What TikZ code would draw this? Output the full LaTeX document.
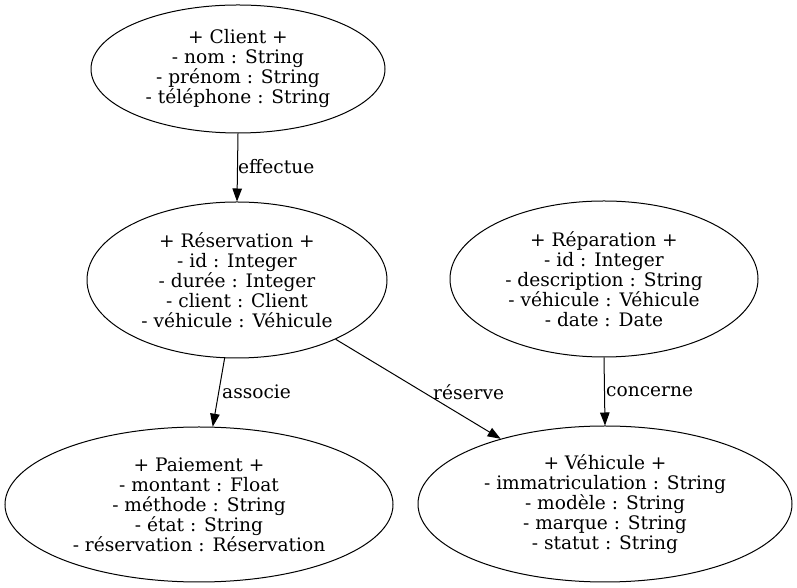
\documentclass[tikz,border=0pt]{standalone}
\usepackage{fontspec}
\setmainfont{DejaVu Serif}
\usetikzlibrary{arrows.meta,shapes.geometric}
\begin{document}
\begin{tikzpicture}[x=1pt,y=1pt,
  cls/.style={draw,ellipse,line width=1pt,inner sep=0pt,align=center,
    font=\fontsize{18.6}{20}\selectfont},
  lbl/.style={anchor=west,inner sep=0pt,font=\fontsize{18.6}{20}\selectfont},
  rel/.style={line width=1pt,-{Triangle[length=13pt,width=9.5pt]}}]
\useasboundingbox (0,0) rectangle (797,588);
\node[cls,minimum width=294,minimum height=128] (cli) at (238,519)
  {+ Client +\\- nom : String\\- prénom : String\\- téléphone : String};
\node[cls,minimum width=300,minimum height=156] (res) at (237,308)
  {+ Réservation +\\- id : Integer\\- durée : Integer\\- client : Client\\- véhicule : Véhicule};
\node[cls,minimum width=308,minimum height=156] (rep) at (604,309)
  {+ Réparation +\\- id : Integer\\- description : String\\- véhicule : Véhicule\\- date : Date};
\node[cls,minimum width=388,minimum height=155] (pai) at (199,83.5)
  {+ Paiement +\\- montant : Float\\- méthode : String\\- état : String\\- réservation : Réservation};
\node[cls,minimum width=374,minimum height=156] (veh) at (605,84)
  {+ Véhicule +\\- immatriculation : String\\- modèle : String\\- marque : String\\- statut : String};
\draw[rel] (cli.south) -- (res.north);
\draw[rel] (res.-99.5) -- (pai.80.5);
\draw[rel] (res.-31) -- (veh.148.2);
\draw[rel] (rep.south) -- (veh.north);
\node[lbl] (l1) at (238,421) {effectue};
\node[lbl] (l2) at (222,196) {associe};
\node[lbl] (l3) at (433,196) {réserve};
\node[lbl] (l4) at (606,196) {concerne};
\end{tikzpicture}
\end{document}
